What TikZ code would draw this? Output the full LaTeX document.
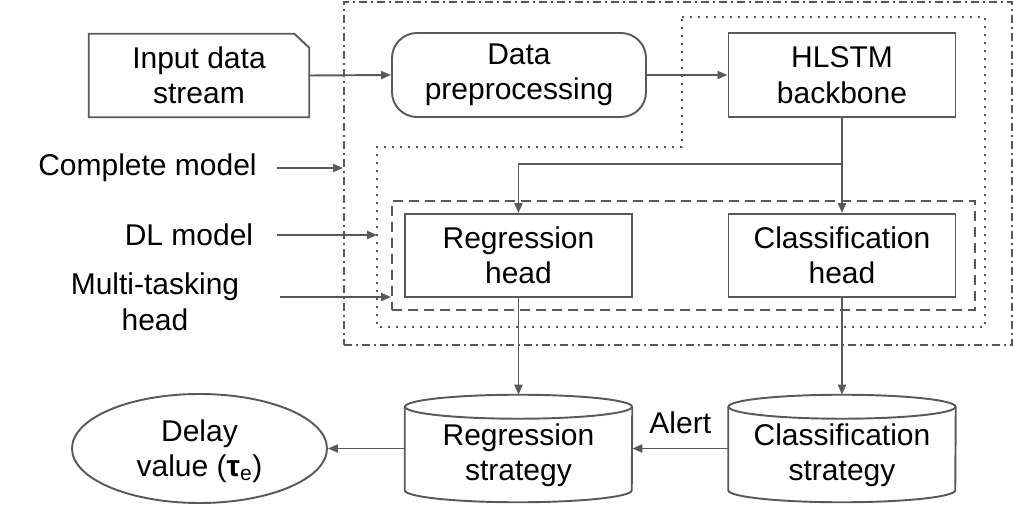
\documentclass[tikz,border=0pt]{standalone}
\usepackage{fontspec}
\setmainfont{Liberation Sans}
\usetikzlibrary{arrows.meta,shapes.geometric,calc}
\definecolor{lc}{RGB}{89,89,89}
\begin{document}
\begin{tikzpicture}[x=0.75pt,y=-0.75pt,
  every node/.style={font=\fontsize{22.5pt}{26.6pt}\selectfont, align=center, inner sep=0pt},
  ln/.style={draw=lc, line width=1.45pt},
  arr/.style={ln, -{Triangle[length=7.5pt,width=6pt]}},
  box/.style={ln, rectangle, minimum width=170.25pt, minimum height=62.25pt},
  cylbox/.style={rectangle, minimum width=170.25pt, minimum height=80.25pt},
  dashdotline/.style={ln, dash pattern=on 6pt off 3pt on 1.5pt off 3pt},
  dotline/.style={ln, dash pattern=on 1.5pt off 4.5pt},
  dashline/.style={ln, dash pattern=on 7.5pt off 4.5pt},
]
\useasboundingbox (0,0) rectangle (1014,506);

% frames
\node (cmf) [dashdotline, rectangle, minimum width=501pt, minimum height=257.25pt] at (678,173.5) {};
\draw[dotline] (682,17) -- (985,17) -- (985,327) -- (377,327) -- (377,147) -- (682,147) -- cycle;
\node (mtf) [dashline, rectangle, minimum width=437.25pt, minimum height=81.75pt] at (683.5,255.5) {};

% main nodes
\node (in) [rectangle, minimum width=165pt, minimum height=62.25pt] at (199,75.5) {Input data\\stream};
\draw[ln] (in.south west) -- (in.north west) -- ([xshift=-11.25pt]in.north east) -- ([yshift=-10.5pt]in.north east) -- (in.south east) -- cycle;
\node (pre) [ln, rectangle, rounded corners=18.75pt, minimum width=190.5pt, minimum height=63pt] at (519,75) {Data\\preprocessing};
\node (hl) [box, minimum height=63pt] at (842,75) {HLSTM\\backbone};
\node (reg) [box] at (518.5,255.5) {Regression\\head};
\node (cls) [box] at (842,255.5) {Classification\\head};

\node (rs) [cylbox] at (518.5,448.5) {};
\node (cs) [cylbox] at (842,448.5) {};
\foreach \n in {rs,cs}{
  \draw[ln] ([yshift=-9pt]\n.north) ellipse [x radius=85.125pt, y radius=9pt];
  \draw[ln] ([yshift=-9pt]\n.north west) -- ([yshift=9pt]\n.south west)
    arc [start angle=180, end angle=360, x radius=85.125pt, y radius=9pt]
    -- ([yshift=-9pt]\n.north east);
}
\node (rst) at ([yshift=-5pt]rs.center) {Regression\\strategy};
\node (cst) at ([yshift=-5pt]cs.center) {Classification\\strategy};

\node (dv) [ln, ellipse, minimum width=191.25pt, minimum height=81.75pt] at (199.5,448.5) {};
\node (dvt) at ([yshift=-2pt]dv.center) {Delay\\value ({\bfseries τ}\textsubscript{e})};

% connectors
\draw[arr] (in.east) -- (pre.west);
\draw[arr] (pre.east) -- (hl.west);
\draw[arr] (hl.south) -- (cls.north);
\draw[arr] (hl.south) |- ($(reg.north)+(0,-49)$) -- (reg.north);
\draw[arr] (reg.south) -- (rs.north);
\draw[arr] (cls.south) -- (cs.north);
\draw[arr] (cs.west) -- node[yshift=19pt]{Alert} (rs.east);
\draw[arr] (rs.west) -- (dv.east);

% side labels
\node (cm) at (147.5,168) {Complete model};
\node (dl) at (189,235) {DL model};
\node (mt) at (155,302) {Multi-tasking\\head};
\coordinate (dlf) at (377,235);
\coordinate (mta) at (280,297);
\draw[arr] ([xshift=15pt]cm.east) -- (cm.east -| cmf.west);
\draw[arr] ([xshift=18pt]dl.east) -- (dlf);
\draw[arr] (mta) -- (mta -| mtf.west);
\end{tikzpicture}
\end{document}
